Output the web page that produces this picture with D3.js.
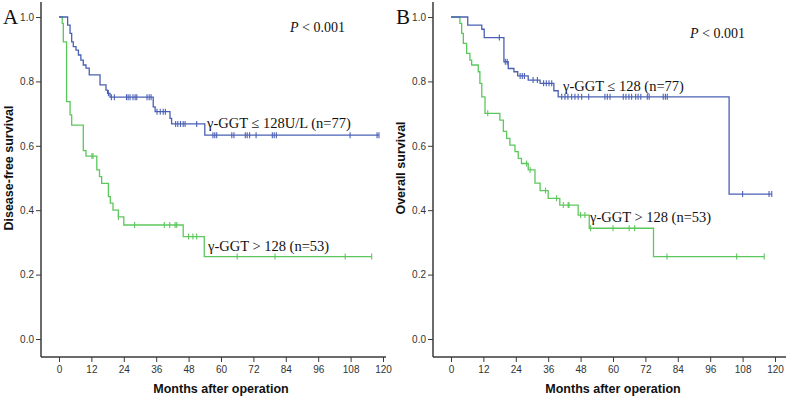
<!DOCTYPE html>
<html><head><meta charset="utf-8">
<script src="https://cdn.jsdelivr.net/npm/d3@7"></script>
<style>body{margin:0;background:#fff}svg{display:block}</style>
</head><body>
<svg id="c" width="787" height="400"></svg>
<script>
// ---- data ----
const xTicks = [0,12,24,36,48,60,72,84,96,108,120];
const yTicks = [0.0,0.2,0.4,0.6,0.8,1.0];

// Panel A: disease-free survival
const dfsLowSteps = [[0,1],[3.2,0.975],[4.1,0.949],[4.7,0.923],[5.3,0.908],[6.3,0.897],[7.2,0.882],[8.1,0.866],[9.0,0.851],[10,0.841],[11.2,0.820],[15.2,0.789],[17.4,0.773],[18,0.763],[18.9,0.751],[34.9,0.721],[35.6,0.706],[41.1,0.685],[41.7,0.668],[54,0.633]];
const dfsLowEnd = 118.5;
const dfsLowCensor = [18.3,19.4,20.5,25,25.6,26.3,27.4,28.2,28.8,32.6,33.4,34.1,36.3,37.5,38.6,39.4,43.2,44,45,46,46.7,51,57,57.7,58.4,64,64.8,69,69.7,70.6,73,79,79.7,80.5,107.8,117.8,118.5];
const dfsHighSteps = [[0,1],[1.2,0.98],[1.6,0.923],[2.8,0.737],[4.1,0.696],[4.7,0.664],[9.0,0.585],[10,0.568],[14,0.525],[15,0.504],[15.8,0.483],[18.3,0.442],[19,0.422],[20,0.40],[22,0.379],[24,0.354],[46,0.318],[53.8,0.256]];
const dfsHighEnd = 115.8;
const dfsHighCensor = [12.2,12.6,22,28,39,41,43,43.6,48,49.6,51,66,80,106,115.8];

// Panel B: overall survival
const osLowSteps = [[0,1],[6.2,0.975],[11.4,0.962],[12.3,0.936],[19.6,0.861],[21.2,0.84],[23.3,0.83],[24.7,0.817],[28.6,0.804],[33,0.794],[38.1,0.771],[39.7,0.752],[103,0.45]];
const osLowEnd = 118.8;
const osLowCensor = [17.9,20.1,20.8,25.6,26.4,27.2,30.4,32,34.3,35.3,36.3,37.3,41,42.2,43.3,44.7,45.9,47.1,48.4,51,57,57.9,58.9,63.8,64.8,65.9,66.9,68.4,69.3,70.3,72.7,73.4,78.6,79.4,80.1,108,117.8,118.8];
const osHighSteps = [[0,1],[3.3,0.98],[3.95,0.949],[4.57,0.918],[5.8,0.887],[7,0.866],[7.65,0.851],[10.1,0.83],[10.7,0.794],[11.4,0.752],[12.6,0.701],[18.1,0.68],[19.4,0.645],[20.6,0.623],[21.8,0.602],[23.7,0.582],[24.9,0.561],[26.1,0.545],[28.6,0.525],[31.1,0.484],[33,0.461],[36,0.437],[40.3,0.416],[47.1,0.385],[51.2,0.344],[75,0.256]];
const osHighEnd = 116;
const osHighCensor = [13.6,28,29.3,35,39.1,41.6,43.4,43.7,48,49.6,51.7,60,66,68,80,105.8,116];

const panelLetters = ["A","B"];
const yTitles = ["Disease-free survival","Overall survival"];
const xTitle = "Months after operation";
const lowLabels = ["γ-GGT ≤ 128U/L (n=77)","γ-GGT ≤ 128 (n=77)"];
const highLabels = ["γ-GGT > 128 (n=53)","γ-GGT > 128 (n=53)"];

const BLUE = "#4a60b4", GREEN = "#5cc75c", AX = "#3a3a3a";
const svg = d3.select("#c");

const panels = [
  {ax:41, x0:59, x1:383, xEnd:386, low:dfsLowSteps, lowEnd:dfsLowEnd, lowC:dfsLowCensor, high:dfsHighSteps, highEnd:dfsHighEnd, highC:dfsHighCensor,
   letterX:3, titleX:13, pX:290, pY:32, lowLab:[207,128], highLab:[208,251]},
  {ax:433, x0:451, x1:775, xEnd:786, low:osLowSteps, lowEnd:osLowEnd, lowC:osLowCensor, high:osHighSteps, highEnd:osHighEnd, highC:osHighCensor,
   letterX:396, titleX:405, pX:690, pY:38, lowLab:[563,91], highLab:[590,222]}
];

function survAt(steps, t){
  let s = steps[0][1];
  for (const [tt,v] of steps){ if (tt <= t) s = v; }
  return s;
}

panels.forEach((p,i)=>{
  const x = d3.scaleLinear().domain([0,120]).range([p.x0,p.x1]);
  const y = d3.scaleLinear().domain([0,1]).range([339,17]);
  const g = svg.append("g");

  // axes
  g.append("line").attr("x1",p.ax).attr("x2",p.ax).attr("y1",2).attr("y2",357).attr("stroke",AX).attr("stroke-width",1.5);
  g.append("line").attr("x1",p.ax).attr("x2",p.xEnd).attr("y1",357).attr("y2",357).attr("stroke",AX).attr("stroke-width",1.5);
  const yAx = g.append("g").attr("transform",`translate(${p.ax},0)`)
    .call(d3.axisLeft(y).tickValues(yTicks).tickFormat(d3.format(".1f")).tickSize(5).tickPadding(2));
  yAx.select(".domain").remove();
  const xAx = g.append("g").attr("transform",`translate(0,357)`)
    .call(d3.axisBottom(x).tickValues(xTicks).tickSize(5).tickPadding(4));
  xAx.select(".domain").remove();
  [yAx,xAx].forEach(a=>{
    a.selectAll("line").attr("stroke",AX);
    a.selectAll("text").attr("fill","#333").style("font-family","'Liberation Sans',Arial,sans-serif").style("font-size","10px");
  });

  // titles
  g.append("text").attr("x",(p.x0+p.x1)/2).attr("y",393).attr("text-anchor","middle")
    .style("font-family","'Liberation Sans',Arial,sans-serif").style("font-weight","bold").style("font-size","12.5px").attr("fill","#111").text(xTitle);
  g.append("text").attr("transform",`translate(${p.titleX},168) rotate(-90)`).attr("text-anchor","middle")
    .style("font-family","'Liberation Sans',Arial,sans-serif").style("font-weight","bold").style("font-size","12.5px").attr("fill","#111").text(yTitles[i]);
  g.append("text").attr("x",p.letterX).attr("y",24)
    .style("font-family","'Liberation Serif','Times New Roman',serif").style("font-size","21px").attr("fill","#111").text(panelLetters[i]);
  const pt = g.append("text").attr("x",p.pX).attr("y",p.pY)
    .style("font-family","'Liberation Serif','Times New Roman',serif").style("font-size","14px").attr("fill","#111");
  pt.append("tspan").style("font-style","italic").text("P");
  pt.append("tspan").text(" < 0.001");

  // curves
  function drawCurve(steps, end, cens, color, lab, labPos){
    const pts = steps.concat([[end, steps[steps.length-1][1]]]);
    const line = d3.line().x(d=>x(d[0])).y(d=>y(d[1])).curve(d3.curveStepAfter);
    g.append("path").attr("d",line(pts)).attr("fill","none").attr("stroke",color).attr("stroke-width",1.3);
    g.selectAll(null).data(cens).enter().append("line")
      .attr("x1",d=>x(d)).attr("x2",d=>x(d))
      .attr("y1",d=>y(survAt(steps,d))-3).attr("y2",d=>y(survAt(steps,d))+3)
      .attr("stroke",color).attr("stroke-width",1.1);
    g.append("text").attr("x",labPos[0]).attr("y",labPos[1])
      .style("font-family","'Liberation Serif','Times New Roman',serif").style("font-size","14.5px").attr("fill","#111").text(lab);
  }
  drawCurve(p.high, p.highEnd, p.highC, GREEN, highLabels[i], p.highLab);
  drawCurve(p.low, p.lowEnd, p.lowC, BLUE, lowLabels[i], p.lowLab);
});
</script>
</body></html>
